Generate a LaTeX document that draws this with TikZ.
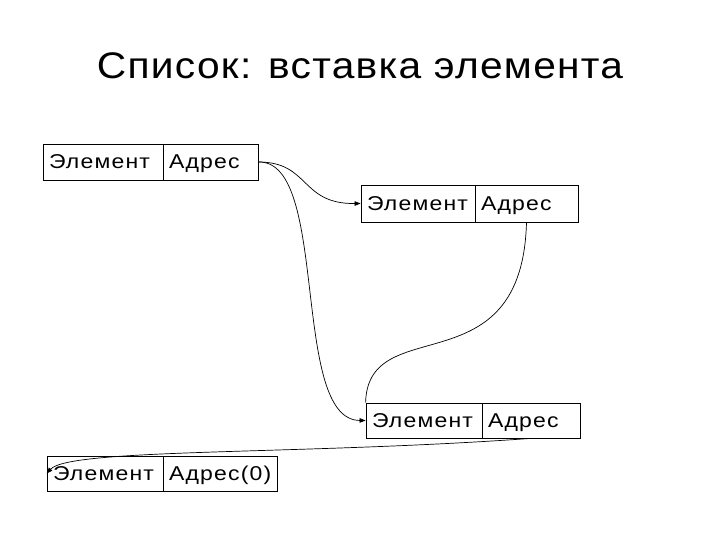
\documentclass[tikz,border=0pt]{standalone}
\usepackage{fontspec}
\setmainfont{Liberation Sans}
\newfontfamily\titlefont[FakeStretch=1.1,LetterSpace=3.5]{Liberation Sans}
\newfontfamily\boxfont[FakeStretch=1.15,LetterSpace=6]{Liberation Sans}
\usetikzlibrary{arrows.meta}
\begin{document}
\begin{tikzpicture}[x=1pt,y=-1pt,
  cell/.style={draw, line width=0.8pt, minimum height=36pt, inner xsep=6pt, inner ysep=0pt,
    text height=18pt, text depth=4pt,
    align=left, font=\boxfont\fontsize{20}{22}\selectfont},
  link/.style={line width=0.7pt},
  arr/.style={link, -{Triangle[length=6pt,width=4.5pt]}}]
\useasboundingbox (0,0) rectangle (720,540);
\node[font=\titlefont\fontsize{37}{40}\selectfont, anchor=base] (title) at (360,79) {Список: вставка элемента};
% box 1
\node[cell, text width=108pt] (e1) at (103,162) {Элемент};
\node[cell, text width=83pt] (a1) at (210.5,162) {Адрес};
% box 2
\node[cell, text width=102pt, minimum height=37pt] (e2) at (418,203.5) {Элемент};
\node[cell, text width=91pt, minimum height=37pt] (a2) at (526.5,203.5) {Адрес};
% box 3
\node[cell, text width=104pt, minimum height=35pt] (e3) at (424,420.5) {Элемент};
\node[cell, text width=86pt, minimum height=35pt] (a3) at (531,420.5) {Адрес};
% box 4
\node[cell, text width=104pt, minimum height=35pt] (e4) at (105,473.5) {Элемент};
\node[cell, text width=102pt, minimum height=35pt] (a4) at (220,473.5) {Адрес(0)};
% links
\draw[arr] (a1.east) .. controls (310,162) and (300,204) .. (e2.west);
\draw[arr] (a1.east) .. controls (330,160) and (290,420) .. (e3.west);
\draw[link] (a2.south) .. controls (522,390) and (368,310) .. (e3.north west);
\draw[arr] (a3.south) .. controls (300,455) and (70,448) .. (e4.west);
\end{tikzpicture}
\end{document}
